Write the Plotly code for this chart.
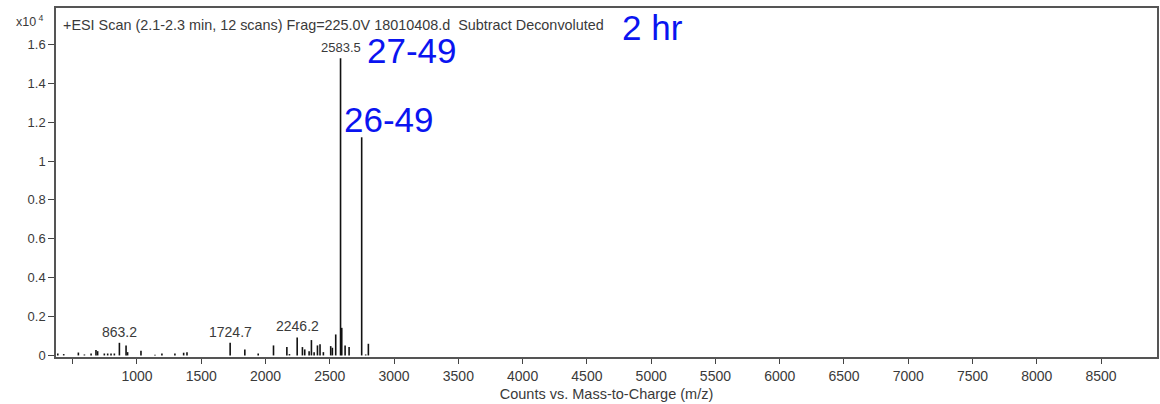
import plotly.graph_objects as go

# ---- data ----
mz = [384, 430, 544, 591, 643, 681, 694, 746, 772, 798, 824, 863.2, 915, 927,
      1031, 1140, 1194, 1295, 1363, 1389, 1724.7, 1839, 1943, 2062, 2166, 2186,
      2246.2, 2287, 2305, 2339, 2357, 2378, 2404, 2424, 2450, 2507, 2520, 2546,
      2583.5, 2593, 2619, 2650, 2748, 2779, 2800]
counts = [100, 70, 150, 50, 100, 275, 220, 100, 100, 100, 100, 650, 515, 170,
          240, 35, 100, 100, 140, 170, 650, 310, 100, 515, 430, 70,
          925, 430, 310, 220, 790, 170, 515, 580, 170, 480, 395, 1080,
          15290, 1420, 515, 430, 11220, 50, 600]
labelled_peaks = [863.2, 1724.7, 2246.2, 2583.5]

x_ticks = [1000, 1500, 2000, 2500, 3000, 3500, 4000, 4500, 5000, 5500,
           6000, 6500, 7000, 7500, 8000, 8500]
x_tick_text = [str(v) for v in x_ticks]
x_minor_ticks = [500]
y_ticks = [0, 2000, 4000, 6000, 8000, 10000, 12000, 14000, 16000]
y_tick_text = ["0", "0.2", "0.4", "0.6", "0.8", "1", "1.2", "1.4", "1.6"]

title_text = "+ESI Scan (2.1-2.3 min, 12 scans) Frag=225.0V 18010408.d  Subtract Deconvoluted"

# ---- figure geometry ----
W, H = 1160, 404
ML, MR, MT, MB = 56, 1, 8, 47
PW, PH = W - ML - MR, H - MT - MB


def px(x):
    return (x - ML) / PW


def py(y):
    return (H - MB - y) / PH


xs, ys = [], []
for m, c in zip(mz, counts):
    xs += [m, m, None]
    ys += [0, c, None]

FONT = "Liberation Sans, Arial, sans-serif"
GRAY = "#3a3a3a"
BLUE = "#0a14f0"

fig = go.Figure()
fig.add_trace(go.Scatter(x=xs, y=ys, mode="lines",
                         line=dict(color="#111111", width=1.6),
                         hoverinfo="skip", showlegend=False))

annotations = []
for p in labelled_peaks:
    c = counts[mz.index(p)]
    annotations.append(dict(x=p, y=c, xref="x", yref="y", text=f"{p:.1f}",
                            showarrow=False, yanchor="bottom", yshift=1,
                            font=dict(family=FONT, size=14 if p < 2500 else 13,
                                      color=GRAY)))

annotations += [
    dict(x=px(61), y=py(25), xref="paper", yref="paper", text=title_text,
         xanchor="left", yanchor="middle", showarrow=False,
         font=dict(family=FONT, size=14.4, color=GRAY)),
    dict(x=px(621), y=py(27), xref="paper", yref="paper", text="2 hr",
         xanchor="left", yanchor="middle", showarrow=False,
         font=dict(family=FONT, size=35, color=BLUE)),
    dict(x=px(366), y=py(51), xref="paper", yref="paper", text="27-49",
         xanchor="left", yanchor="middle", showarrow=False,
         font=dict(family=FONT, size=35, color=BLUE)),
    dict(x=px(343), y=py(119), xref="paper", yref="paper", text="26-49",
         xanchor="left", yanchor="middle", showarrow=False,
         font=dict(family=FONT, size=35, color=BLUE)),
    dict(x=px(46), y=py(21), xref="paper", yref="paper",
         text="x10<sup> 4</sup>", xanchor="right", yanchor="middle",
         showarrow=False, font=dict(family=FONT, size=12.5, color=GRAY)),
]

fig.update_layout(
    width=W, height=H,
    margin=dict(l=ML, r=MR, t=MT, b=MB, pad=0),
    paper_bgcolor="white", plot_bgcolor="white",
    font=dict(family=FONT, size=13, color=GRAY),
    xaxis=dict(range=[370, 8935], tickvals=x_ticks, ticktext=x_tick_text,
               ticks="outside", ticklen=5, tickcolor="#444", tickwidth=1.2,
               minor=dict(tickvals=x_minor_ticks, ticks="outside", ticklen=5,
                          tickcolor="#444", tickwidth=1.2, showgrid=False),
               showline=True, linecolor="#555", linewidth=1.5, mirror=True,
               showgrid=False, zeroline=False,
               tickfont=dict(family=FONT, size=14, color=GRAY),
               title=dict(text="Counts vs. Mass-to-Charge (m/z)",
                          font=dict(family=FONT, size=14.5, color=GRAY),
                          standoff=6)),
    yaxis=dict(range=[-80, 17870], tickvals=y_ticks, ticktext=y_tick_text,
               ticks="outside", ticklen=6, tickcolor="#444", tickwidth=1.2,
               showline=True, linecolor="#555", linewidth=1.5, mirror=True,
               showgrid=False, zeroline=False,
               tickfont=dict(family=FONT, size=13, color=GRAY)),
    annotations=annotations,
)

fig.write_html("out.html")
